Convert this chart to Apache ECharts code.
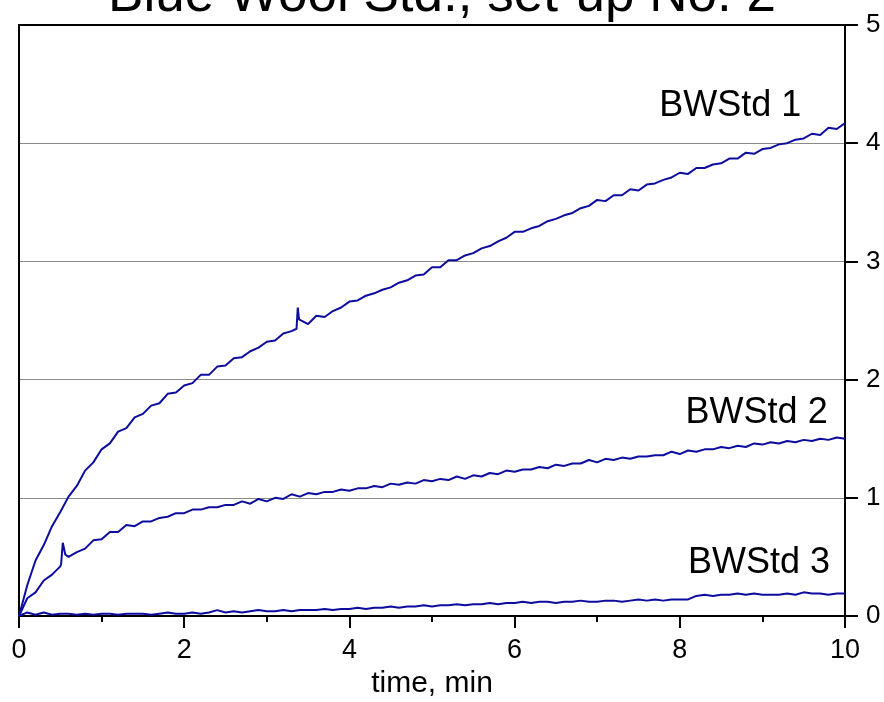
<!DOCTYPE html>
<html>
<head>
<meta charset="utf-8">
<script src="https://cdn.jsdelivr.net/npm/echarts@6/dist/echarts.min.js"></script>
<style>
  html, body { margin: 0; padding: 0; background: #fff; }
  #chart { width: 884px; height: 702px; }
</style>
</head>
<body>
<div id="chart"></div>
<script>
// Sampling times (min) shared by the three Blue Wool standards
const timeGrid = [
  0.0, 0.1, 0.2, 0.3, 0.4, 0.5, 0.6, 0.7, 0.8, 0.9,
  1.0, 1.1, 1.2, 1.3, 1.4, 1.5, 1.6, 1.7, 1.8, 1.9,
  2.0, 2.1, 2.2, 2.3, 2.4, 2.5, 2.6, 2.7, 2.8, 2.9,
  3.0, 3.1, 3.2, 3.3, 3.4, 3.5, 3.6, 3.7, 3.8, 3.9,
  4.0, 4.1, 4.2, 4.3, 4.4, 4.5, 4.6, 4.7, 4.8, 4.9,
  5.0, 5.1, 5.2, 5.3, 5.4, 5.5, 5.6, 5.7, 5.8, 5.9,
  6.0, 6.1, 6.2, 6.3, 6.4, 6.5, 6.6, 6.7, 6.8, 6.9,
  7.0, 7.1, 7.2, 7.3, 7.4, 7.5, 7.6, 7.7, 7.8, 7.9,
  8.0, 8.1, 8.2, 8.3, 8.4, 8.5, 8.6, 8.7, 8.8, 8.9,
  9.0, 9.1, 9.2, 9.3, 9.4, 9.5, 9.6, 9.7, 9.8, 9.9,
  10.0
];

const bwStd1 = [
  0.00, 0.26, 0.47, 0.60, 0.76, 0.88, 1.01, 1.10, 1.23, 1.30,
  1.41, 1.46, 1.56, 1.59, 1.68, 1.71, 1.78, 1.80, 1.88, 1.89,
  1.95, 1.97, 2.04, 2.04, 2.11, 2.12, 2.18, 2.19, 2.24, 2.27,
  2.32, 2.33, 2.39, 2.41, 2.50, 2.47, 2.54, 2.53, 2.58, 2.61,
  2.66, 2.67, 2.71, 2.73, 2.76, 2.78, 2.82, 2.84, 2.88, 2.89,
  2.95, 2.95, 3.01, 3.01, 3.05, 3.07, 3.11, 3.13, 3.17, 3.20,
  3.25, 3.25, 3.28, 3.30, 3.34, 3.36, 3.39, 3.41, 3.45, 3.47,
  3.52, 3.51, 3.56, 3.56, 3.61, 3.60, 3.65, 3.66, 3.69, 3.71,
  3.75, 3.74, 3.79, 3.79, 3.82, 3.83, 3.87, 3.87, 3.92, 3.91,
  3.95, 3.96, 3.99, 4.00, 4.03, 4.04, 4.08, 4.07, 4.13, 4.12,
  4.17
];
// short glitch recorded near 3.4 min
const bwStd1Spike = [[3.36, 2.43], [3.375, 2.61], [3.39, 2.51]];

const bwStd2 = [
  0.00, 0.15, 0.20, 0.30, 0.35, 0.42, 0.50, 0.54, 0.57, 0.64,
  0.65, 0.71, 0.71, 0.77, 0.76, 0.80, 0.80, 0.83, 0.84, 0.87,
  0.87, 0.90, 0.90, 0.92, 0.92, 0.94, 0.94, 0.97, 0.95, 0.99,
  0.97, 1.00, 0.99, 1.03, 1.01, 1.04, 1.03, 1.05, 1.05, 1.07,
  1.06, 1.08, 1.08, 1.10, 1.09, 1.12, 1.11, 1.13, 1.12, 1.15,
  1.14, 1.16, 1.15, 1.18, 1.16, 1.19, 1.18, 1.21, 1.20, 1.23,
  1.22, 1.24, 1.24, 1.26, 1.25, 1.28, 1.27, 1.29, 1.29, 1.32,
  1.30, 1.33, 1.32, 1.34, 1.33, 1.35, 1.35, 1.36, 1.36, 1.39,
  1.37, 1.40, 1.39, 1.41, 1.41, 1.43, 1.42, 1.44, 1.43, 1.46,
  1.45, 1.47, 1.46, 1.48, 1.47, 1.49, 1.48, 1.50, 1.49, 1.51,
  1.50
];
// short glitch recorded near 0.5 min
const bwStd2Spike = [[0.51, 0.44], [0.53, 0.62], [0.56, 0.52]];

const bwStd3 = [
  0.00, 0.03, 0.01, 0.03, 0.01, 0.02, 0.02, 0.01, 0.02, 0.01,
  0.02, 0.02, 0.01, 0.02, 0.02, 0.02, 0.01, 0.02, 0.03, 0.02,
  0.02, 0.03, 0.02, 0.03, 0.05, 0.03, 0.04, 0.03, 0.04, 0.05,
  0.04, 0.04, 0.05, 0.04, 0.05, 0.05, 0.05, 0.06, 0.05, 0.06,
  0.06, 0.07, 0.06, 0.07, 0.07, 0.08, 0.07, 0.08, 0.08, 0.09,
  0.08, 0.09, 0.09, 0.10, 0.09, 0.10, 0.10, 0.11, 0.10, 0.11,
  0.11, 0.12, 0.11, 0.12, 0.12, 0.11, 0.12, 0.12, 0.13, 0.12,
  0.12, 0.13, 0.13, 0.12, 0.13, 0.14, 0.13, 0.14, 0.13, 0.14,
  0.14, 0.14, 0.17, 0.18, 0.17, 0.18, 0.18, 0.19, 0.18, 0.19,
  0.18, 0.18, 0.18, 0.19, 0.18, 0.20, 0.19, 0.19, 0.18, 0.19,
  0.19
];

const seriesNames = ['BWStd 1', 'BWStd 2', 'BWStd 3'];
// where each curve's name is written (time, value); text is right-aligned there
const nameAnchors = [[9.47, 4.31], [9.79, 1.72], [9.82, 0.45]];

const xTicks = { min: 0, max: 10, step: 2 };
const yTicks = { min: 0, max: 5, step: 1 };

function toPairs(values, extra) {
  const pts = timeGrid.map((t, i) => [t, values[i]]);
  return pts.concat(extra || []).sort((a, b) => a[0] - b[0]);
}

const FONT = 'Liberation Sans, Arial, sans-serif';
const LINE = '#0c0c9e';
const frame = { show: true, onZero: false, lineStyle: { color: '#000', width: 2 } };

const seriesData = [
  toPairs(bwStd1, bwStd1Spike),
  toPairs(bwStd2, bwStd2Spike),
  toPairs(bwStd3)
];

const chart = echarts.init(document.getElementById('chart'), null, { renderer: 'canvas' });
chart.setOption({
  animation: false,
  backgroundColor: '#fff',
  textStyle: { fontFamily: FONT },
  title: {
    text: 'Blue Wool Std., set-up No. 2',
    left: 'center',
    top: -35,
    textStyle: { fontFamily: FONT, fontSize: 53, fontWeight: 'normal', color: '#000' }
  },
  grid: { left: 19, right: 39, top: 25, bottom: 86, containLabel: false, outerBoundsMode: 'none' },
  xAxis: [
    {
      type: 'value', position: 'bottom',
      min: xTicks.min, max: xTicks.max, interval: xTicks.step,
      axisLine: frame,
      axisTick: { show: true, inside: false, length: 12, lineStyle: { color: '#000', width: 2 } },
      minorTick: { show: true, splitNumber: 2, length: 6, lineStyle: { color: '#000', width: 2 } },
      axisLabel: { fontFamily: FONT, fontSize: 27, color: '#000', margin: 21 },
      splitLine: { show: false },
      name: 'time, min', nameLocation: 'middle', nameGap: 53, nameMoveOverlap: false,
      nameTextStyle: { fontFamily: FONT, fontSize: 30, color: '#000' }
    },
    {
      type: 'value', position: 'top',
      min: xTicks.min, max: xTicks.max, interval: xTicks.step,
      axisLine: frame, axisTick: { show: false }, axisLabel: { show: false },
      splitLine: { show: false }
    }
  ],
  yAxis: [
    {
      type: 'value', position: 'right',
      min: yTicks.min, max: yTicks.max, interval: yTicks.step,
      axisLine: frame,
      axisTick: { show: true, inside: false, length: 13, lineStyle: { color: '#000', width: 2 } },
      axisLabel: { fontFamily: FONT, fontSize: 26, color: '#000', margin: 21 },
      splitLine: { show: true, lineStyle: { color: '#8a8a8a', width: 1 } }
    },
    {
      type: 'value', position: 'left',
      min: yTicks.min, max: yTicks.max, interval: yTicks.step,
      axisLine: frame, axisTick: { show: false }, axisLabel: { show: false },
      splitLine: { show: false }
    }
  ],
  series: seriesData.map((data, i) => ({
    name: seriesNames[i],
    type: 'line',
    xAxisIndex: 0,
    yAxisIndex: 0,
    data: data,
    showSymbol: false,
    smooth: false,
    lineStyle: { color: LINE, width: 2 },
    markPoint: {
      silent: true,
      symbol: 'circle',
      symbolSize: 0,
      data: [{
        coord: nameAnchors[i],
        label: {
          show: true,
          formatter: seriesNames[i],
          position: 'left',
          distance: 0,
          fontFamily: FONT,
          fontSize: 36,
          color: '#000'
        }
      }]
    }
  }))
});
</script>
</body>
</html>
